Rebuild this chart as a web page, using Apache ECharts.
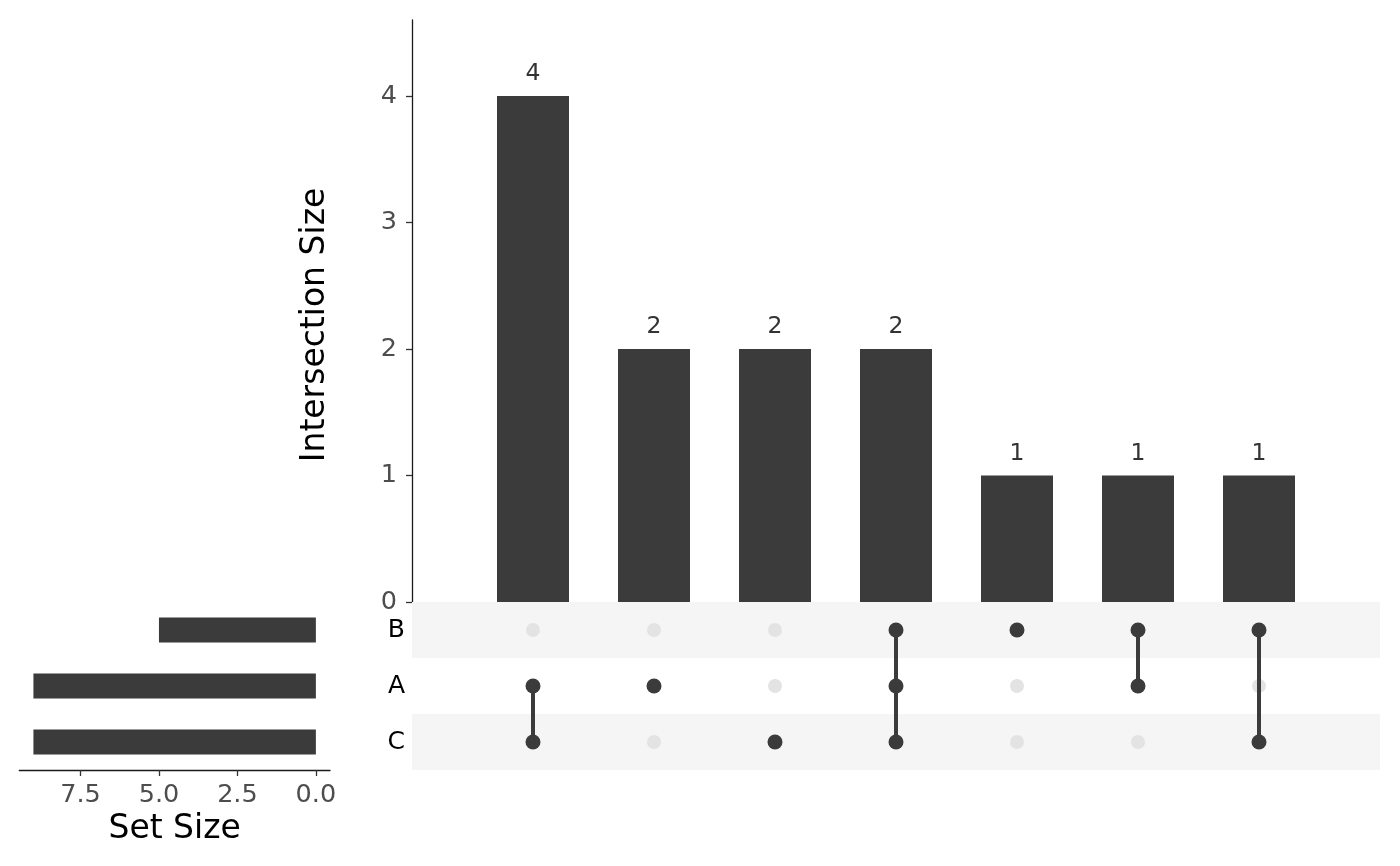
<!DOCTYPE html>
<html>
<head>
<meta charset="utf-8">
<script src="https://cdn.jsdelivr.net/npm/echarts@6/dist/echarts.min.js"></script>
<style>html,body{margin:0;padding:0;background:#fff}#c{width:1400px;height:866px}</style>
</head>
<body>
<div id="c"></div>
<script>
// ---- data ----
const setNames = ['B', 'A', 'C'];
const setSizes = [5, 9, 9];
const intersectionSizes = [4, 2, 2, 2, 1, 1, 1];
const intersectionMembers = [['A', 'C'], ['A'], ['C'], ['B', 'A', 'C'], ['B'], ['B', 'A'], ['B', 'C']];
const intersectionTicks = [0, 1, 2, 3, 4];
const setSizeTicks = [0, 2.5, 5, 7.5];

// ---- derived ----
const barData = intersectionSizes.map((v, i) => [i + 1, v]);
const activeDots = [], inactiveDots = [], lineData = [];
intersectionMembers.forEach((m, i) => {
  setNames.forEach(s => {
    (m.includes(s) ? activeDots : inactiveDots).push([i + 1, s]);
  });
  if (m.length > 1) {
    const idx = m.map(s => setNames.indexOf(s)).sort((a, b) => a - b);
    lineData.push([i + 1, setNames[idx[0]]]);
    lineData.push([i + 1, setNames[idx[idx.length - 1]]]);
    lineData.push(['-', '-']);
  }
});

const DARK = '#3b3b3b';
const FONT = 'DejaVu Sans';
const chart = echarts.init(document.getElementById('c'), null, { renderer: 'canvas' });
chart.setOption({
  animation: false,
  backgroundColor: '#ffffff',
  textStyle: { fontFamily: FONT },
  grid: [
    { left: 412, right: 20, top: 20, height: 582 },
    { left: 412, right: 20, top: 602, height: 168 },
    { left: 19.3, width: 310.7, top: 602, height: 168 }
  ],
  xAxis: [
    { gridIndex: 0, type: 'value', min: 0, max: 8, show: false },
    { gridIndex: 1, type: 'value', min: 0, max: 8, show: false },
    {
      gridIndex: 2, type: 'value', min: -0.45, max: 9.45, inverse: true,
      axisLine: { show: true, lineStyle: { color: '#1a1a1a', width: 1.3 } },
      axisTick: { show: true, length: 6, lineStyle: { color: '#333', width: 1.3 }, customValues: setSizeTicks },
      axisLabel: { color: '#4d4d4d', fontSize: 25.5, fontFamily: FONT, margin: 12, customValues: setSizeTicks,
        formatter: v => Number(v).toFixed(1) },
      splitLine: { show: false },
      name: 'Set Size', nameLocation: 'middle', nameGap: 43,
      nameTextStyle: { color: '#000', fontSize: 33, fontFamily: FONT }
    }
  ],
  yAxis: [
    {
      gridIndex: 0, type: 'value', min: 0, max: 4.6,
      axisLine: { show: true, lineStyle: { color: '#1a1a1a', width: 1.3 } },
      axisTick: { show: true, length: 6, lineStyle: { color: '#333', width: 1.3 }, customValues: intersectionTicks },
      axisLabel: { color: '#4d4d4d', fontSize: 25.5, fontFamily: FONT, margin: 15, customValues: intersectionTicks },
      splitLine: { show: false },
      name: 'Intersection Size', nameLocation: 'middle', nameGap: 80,
      nameTextStyle: { color: '#000', fontSize: 33, fontFamily: FONT, padding: [0, 28, 0, 0] }
    },
    {
      gridIndex: 1, type: 'category', data: setNames, inverse: true, z: 5,
      axisLine: { show: false }, axisTick: { show: false },
      axisLabel: { color: '#000', fontSize: 25, fontFamily: FONT, margin: 7 },
      splitLine: { show: false },
      splitArea: { show: true, areaStyle: { color: ['#f5f5f5', '#ffffff'] } }
    },
    {
      gridIndex: 2, type: 'category', data: setNames, inverse: true, show: false
    }
  ],
  series: [
    {
      type: 'bar', xAxisIndex: 0, yAxisIndex: 0, data: barData, barWidth: 72,
      itemStyle: { color: DARK },
      label: { show: true, position: 'top', distance: 10, color: '#333', fontSize: 23.5, fontFamily: FONT }
    },
    {
      type: 'scatter', xAxisIndex: 1, yAxisIndex: 1, data: inactiveDots, symbolSize: 14, z: 6,
      itemStyle: { color: '#e3e3e3', opacity: 1 }
    },
    {
      type: 'line', xAxisIndex: 1, yAxisIndex: 1, data: lineData, showSymbol: false, symbol: 'none', z: 7,
      connectNulls: false, lineStyle: { color: DARK, width: 4 }
    },
    {
      type: 'scatter', xAxisIndex: 1, yAxisIndex: 1, data: activeDots, symbolSize: 15, z: 8,
      itemStyle: { color: DARK, opacity: 1 }
    },
    {
      type: 'bar', xAxisIndex: 2, yAxisIndex: 2, data: setSizes, barWidth: 25,
      itemStyle: { color: DARK }
    }
  ]
});
</script>
</body>
</html>
